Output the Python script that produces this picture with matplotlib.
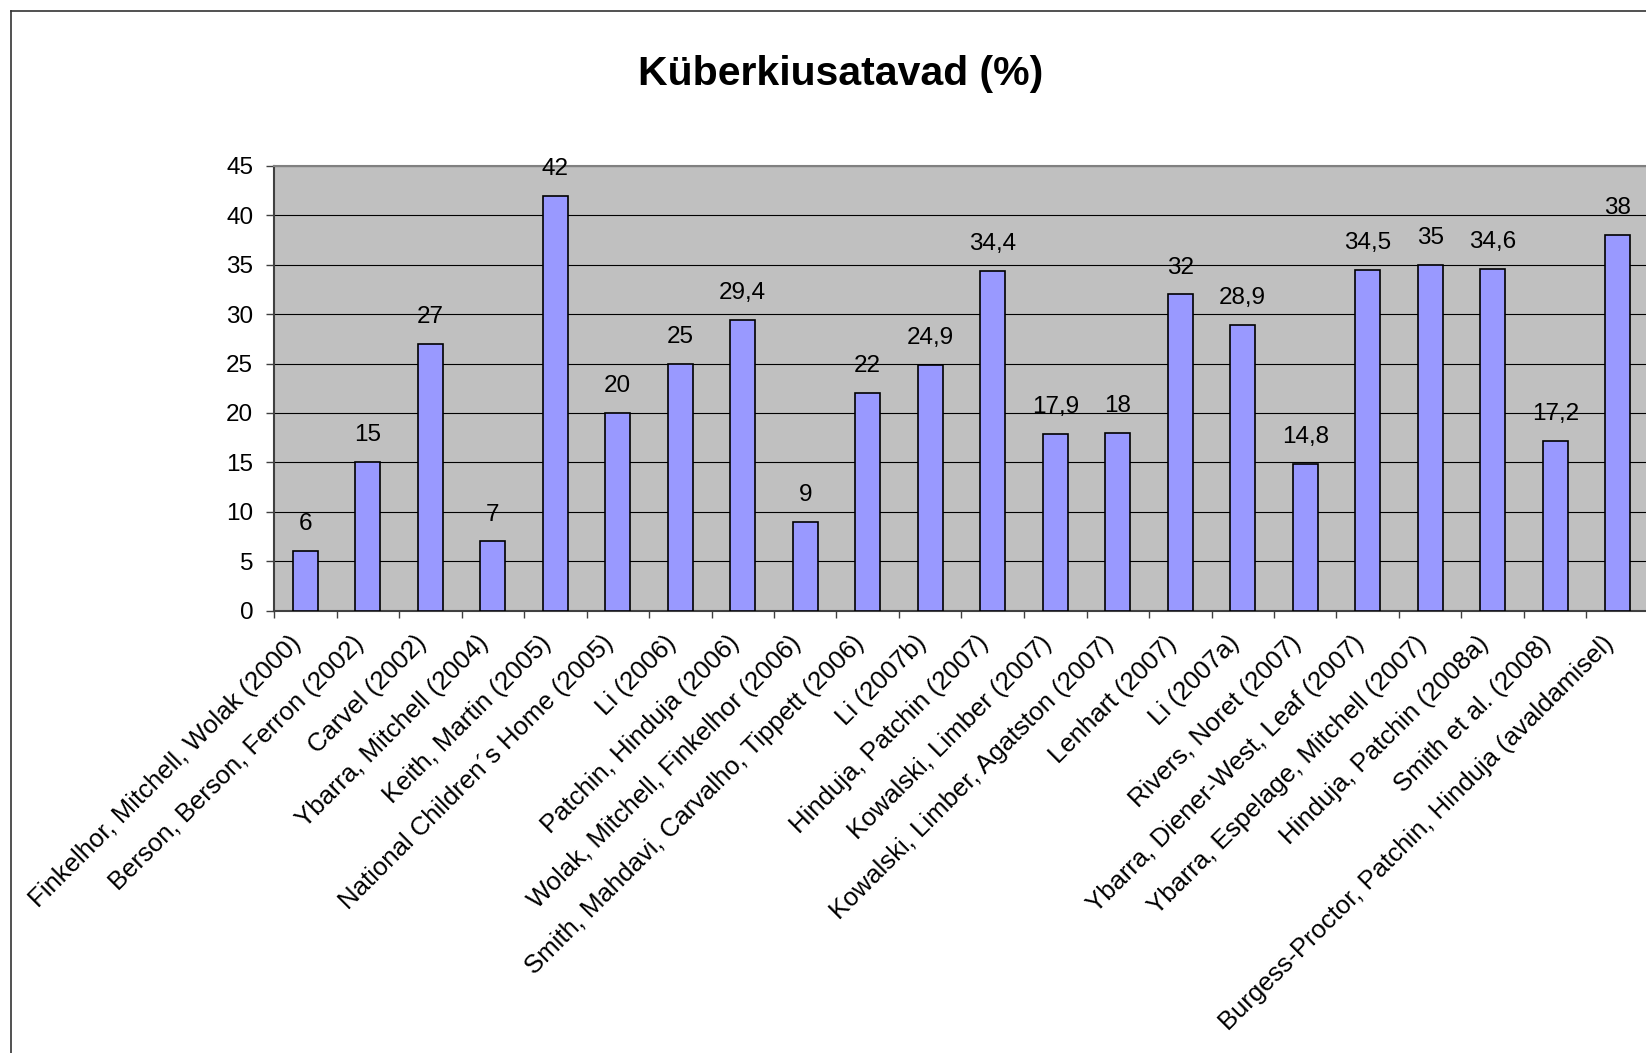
import matplotlib.pyplot as plt
from matplotlib.lines import Line2D
from matplotlib.ticker import FixedLocator

# --- data ---
studies = [
    'Finkelhor, Mitchell, Wolak (2000)',
    'Berson, Berson, Ferron (2002)',
    'Carvel (2002)',
    'Ybarra, Mitchell (2004)',
    'Keith, Martin (2005)',
    'National Children\u00b4s Home (2005)',
    'Li (2006)',
    'Patchin, Hinduja (2006)',
    'Wolak, Mitchell, Finkelhor (2006)',
    'Smith, Mahdavi, Carvalho, Tippett (2006)',
    'Li (2007b)',
    'Hinduja, Patchin (2007)',
    'Kowalski, Limber (2007)',
    'Kowalski, Limber, Agatston (2007)',
    'Lenhart (2007)',
    'Li (2007a)',
    'Rivers, Noret (2007)',
    'Ybarra, Diener-West, Leaf (2007)',
    'Ybarra, Espelage, Mitchell (2007)',
    'Hinduja, Patchin (2008a)',
    'Smith et al. (2008)',
    'Burgess-Proctor, Patchin, Hinduja (avaldamisel)',
]
percent = [6, 15, 27, 7, 42, 20, 25, 29.4, 9, 22, 24.9, 34.4, 17.9, 18,
           32, 28.9, 14.8, 34.5, 35, 34.6, 17.2, 38]
y_ticks = [0, 5, 10, 15, 20, 25, 30, 35, 40, 45]

title = 'Küberkiusatavad (%)'

plt.rcParams['font.family'] = ['Liberation Sans', 'DejaVu Sans']

W, H = 1646, 1053
fig = plt.figure(figsize=(W / 100, H / 100), dpi=100)

# plot area (right edge runs just past the image, like the original)
left, right, top, bottom = 274, 1649, 166, 610.5
ax = fig.add_axes([left / W, 1 - bottom / H, (right - left) / W, (bottom - top) / H])
ax.set_facecolor('#C0C0C0')

x = list(range(len(percent)))
ax.bar(x, percent, width=0.4, color='#9999FF', edgecolor='black',
       linewidth=1.2, zorder=3)

# data labels with comma decimal
for xi, v in zip(x, percent):
    txt = f'{v:g}'.replace('.', ',')
    ax.annotate(txt, (xi, v), xytext=(0, 15), textcoords='offset points',
                ha='center', va='baseline', fontsize=17.5, zorder=4)

ax.set_xlim(-0.5, len(percent) - 0.5)
ax.set_ylim(0, 45)
ax.set_yticks(y_ticks)
ax.yaxis.grid(True, color='black', linewidth=0.8, zorder=1)
ax.set_axisbelow(True)

# category labels (slightly left of bar centre, like Excel), ticks at boundaries
label_pos = [i - 0.12 for i in x]
ax.set_xticks(label_pos)
ax.set_xticklabels(studies, rotation=45, ha='right', va='center',
                   rotation_mode='anchor', fontsize=18.5)
ax.xaxis.set_minor_locator(FixedLocator([i - 0.5 for i in range(len(percent) + 1)]))
ax.tick_params(axis='x', which='major', length=0, pad=21)
ax.tick_params(axis='x', which='minor', length=5, width=1, color='#404040', direction='out')
ax.tick_params(axis='y', length=6, width=1, color='#404040', pad=9, labelsize=17.5)

for side in ['left', 'bottom']:
    ax.spines[side].set_color('#404040')
    ax.spines[side].set_linewidth(1.5)
ax.spines['top'].set_color('#808080')
ax.spines['top'].set_linewidth(1.5)
ax.spines['right'].set_visible(False)

fig.text(840.5 / W, 1 - 85 / H, title, ha='center', va='baseline',
         fontsize=29.5, fontweight='bold')

# outer chart border (only top and left are inside the image)
fig.add_artist(Line2D([11 / W, 11 / W], [0, 1 - 10.5 / H], color='#333333', linewidth=1.2))
fig.add_artist(Line2D([11 / W, 1], [1 - 10.5 / H, 1 - 10.5 / H], color='#333333', linewidth=1.2))

fig.savefig('out.png', dpi=100)
